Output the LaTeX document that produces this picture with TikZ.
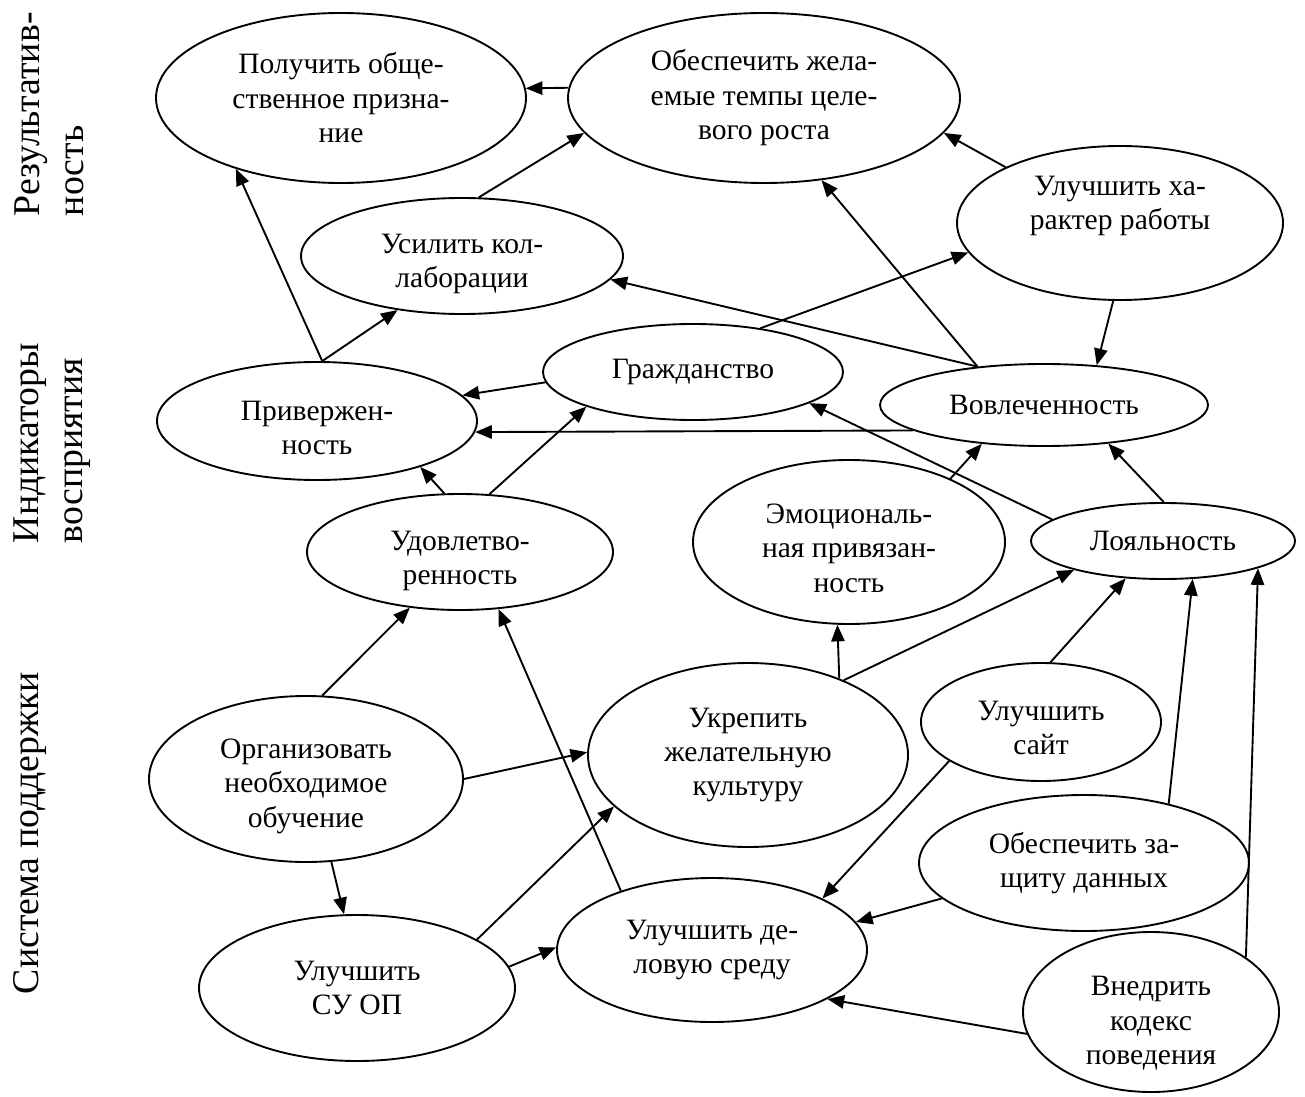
\documentclass[tikz,border=0pt]{standalone}
\usepackage{fontspec}
\setmainfont{Liberation Serif}
\usetikzlibrary{shapes.geometric,arrows.meta}

\tikzset{
  ell/.style 2 args={ellipse, draw, inner sep=0pt, align=center,
    minimum width=#1*0.9pt, minimum height=#2*0.9pt,
    font=\fontsize{13.3}{15.5}\selectfont},
  tpos/.style={text height=#1, text depth=0pt},
  side/.style={rotate=90, anchor=north west, inner sep=0pt, align=left,
    font=\fontsize{17}{19.5}\selectfont}
}

\begin{document}
\begin{tikzpicture}[x=0.45pt, y=-0.45pt, line width=0.85pt,
  >={Triangle[length=7.5pt,width=6pt]}]
\useasboundingbox (0,0) rectangle (1305,1097);

\node[side] (rez) at (14,217) {Результатив-\\ность};
\node[side] (ind) at (13,544) {Индикаторы\\восприятия};
\node[side] (sys) at (13,995) {Система поддержки};

\node[ell={185}{85}] (priz) at (341,98) {Получить обще-\\ственное призна-\\ние};
\node[ell={196}{85}] (temp) at (764,98) {Обеспечить жела-\\емые темпы целе-\\вого роста};
\node[ell={163}{77}, tpos=6pt] (harak) at (1120,223) {Улучшить ха-\\рактер работы};
\node[ell={161}{58}, tpos=28.5pt] (kollab) at (462,256) {Усилить кол-\\лаборации};
\node[ell={150}{48}] (grazhd) at (693,372) {Гражданство};
\node[ell={160}{59}, tpos=30.4pt] (priv) at (317,421) {Привержен-\\ность};
\node[ell={164}{41}] (vovl) at (1044,405) {Вовлеченность};
\node[ell={153}{58}, tpos=29.4pt] (udov) at (460,552) {Удовлетво-\\ренность};
\node[ell={156}{82}, tpos=45.1pt] (emo) at (849,542) {Эмоциональ-\\ная привязан-\\ность};
\node[ell={132}{38}] (loyal) at (1163,541) {Лояльность};
\node[ell={157}{83}, tpos=43.3pt] (obuch) at (306,779) {Организовать\\необходимое\\обучение};
\node[ell={160}{92}] (kult) at (748,755) {Укрепить\\желательную\\культуру};
\node[ell={120}{59}, tpos=29.5pt] (sait) at (1041,722) {Улучшить\\сайт};
\node[ell={165}{68}] (zasch) at (1084,863) {Обеспечить за-\\щиту данных};
\node[ell={155}{72}] (sreda) at (712,950) {Улучшить де-\\ловую среду};
\node[ell={128}{80}, tpos=47.3pt] (kodeks) at (1151,1012) {Внедрить\\кодекс\\поведения};
\node[ell={158}{73}] (suop) at (357,988) {Улучшить\\СУ ОП};

\path[->]
 (temp.177) edge (priz.3)
 (kollab.74) edge (temp.191)
 (priv.85) edge (priz.214)
           edge (kollab.220)
 (grazhd.184) edge (priv.10)
 (vovl.191) edge (priv.-4)
 (udov.105) edge (priv.-24)
 (udov.63) edge (grazhd.198)
 (vovl.150) edge (kollab.-9)
            edge (temp.-55)
 (grazhd.33) edge (harak.191)
 (harak.154) edge (temp.-11)
 (harak.265) edge (vovl.37)
 (emo.32) edge (vovl.212)
 (loyal.169) edge (grazhd.-15)
 (loyal.89) edge (vovl.-31)
 (kult.40) edge (emo.262)
 (kult.38) edge (loyal.198)
 (sait.81) edge (loyal.225)
 (zasch.35) edge (loyal.-52)
 (kodeks.30) edge (loyal.-16)
 (sait.203) edge (sreda.25)
 (zasch.194) edge (sreda.11)
 (kodeks.190) edge (sreda.-23)
 (sreda.147) edge (udov.-56)
 (obuch.79) edge (udov.228)
 (obuch.0) edge (kult.179)
 (obuch.-73) edge (suop.100)
 (suop.22) edge (kult.201)
 (suop.8) edge (sreda.179);
\end{tikzpicture}
\end{document}
